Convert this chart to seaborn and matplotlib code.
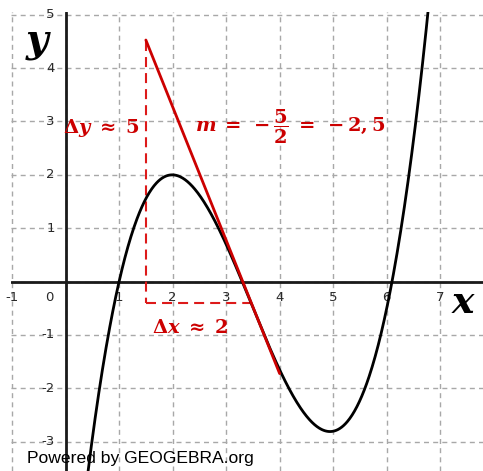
import numpy as np
import matplotlib
matplotlib.use("Agg")
import matplotlib.pyplot as plt
import seaborn as sns

# Cubic f(x) = lead * (x - r1)(x - r2)(x - r3)
roots = [1.0, 3.3, 6.1]
lead = 0.375

# Slope line m = -5/2 through an anchor point, drawn over x in seg_x
slope = -2.5
anchor = (2.75, 1.4)
seg_x = [1.5, 4.0]

# Slope triangle (dashed): vertical leg at tri_x[0], horizontal leg at tri_base
tri_x = [1.5, 3.47]
tri_top = 4.5
tri_base = -0.4

# Axis ticks
x_ticks = [-1, 1, 2, 3, 4, 5, 6, 7]
y_ticks = [-3, -2, -1, 1, 2, 3, 4, 5]

sns.set_style("white")
plt.rcParams["mathtext.fontset"] = "dejavuserif"

fig = plt.figure(figsize=(4.83, 4.71), dpi=100)
ax = fig.add_axes([11 / 483, 0, 472 / 483, 459 / 471])
ax.set_xlim(-1.02, 7.80)
ax.set_ylim(-3.55, 5.05)
for s in ax.spines.values():
    s.set_visible(False)

ax.set_xticks(range(-1, 8))
ax.set_yticks(range(-3, 6))
ax.tick_params(length=0, labelbottom=False, labelleft=False)
ax.grid(True, color="#a8a8a8", lw=1.0, linestyle=(0, (3.6, 3.0)))

# coordinate axes
ax.axhline(0, color="#1a1a1a", lw=2.0, zorder=3)
ax.axvline(0, color="#1a1a1a", lw=2.0, zorder=3)

# tick labels
lab_kw = dict(fontsize=9.5, color="#2a2a2a", family="DejaVu Sans", zorder=4)
for t in x_ticks:
    ax.text(t, -0.29, str(t), ha="center", va="center", **lab_kw)
ax.text(-0.31, -0.29, "0", ha="center", va="center", **lab_kw)
for t in y_ticks:
    ax.text(-0.2, t, str(t), ha="right", va="center", **lab_kw)

# the function graph
xs = np.linspace(0.2, 7.0, 600)
ys = lead * (xs - roots[0]) * (xs - roots[1]) * (xs - roots[2])
sns.lineplot(x=xs, y=ys, ax=ax, color="black", lw=2.0, sort=False, zorder=5)

# slope line
lx = np.array(seg_x)
ly = anchor[1] + slope * (lx - anchor[0])
sns.lineplot(x=lx, y=ly, ax=ax, color="#cc0000", lw=2.0, sort=False, zorder=6)

# dashed slope triangle
red_dash = (0, (4.8, 2.9))
ax.plot([tri_x[0], tri_x[0]], [tri_top, tri_base], color="#dd1a1a", lw=1.5,
        linestyle=red_dash, zorder=4)
ax.plot([tri_x[0], tri_x[1]], [tri_base, tri_base], color="#dd1a1a", lw=1.5,
        linestyle=red_dash, zorder=4)

# annotations
red = "#cc0000"
ax.text(-0.05, 2.88, r"$\mathbf{\Delta}\mathbfit{y}\ \mathbf{\approx\ 5}$",
        color=red, fontsize=14, ha="left", va="center", zorder=7)
ax.text(1.62, -0.87, r"$\mathbf{\Delta}\mathbfit{x}\ \mathbf{\approx\ 2}$",
        color=red, fontsize=14, ha="left", va="center", zorder=7)
ax.text(2.42, 2.9,
        r"$\mathbfit{m}\;\mathbf{=\;-\dfrac{5}{2}\;=\;-2,5}$",
        color=red, fontsize=14, ha="left", va="center", zorder=7)

# axis names
ax.text(-0.5, 4.47, r"$\mathbfit{y}$", fontsize=28, color="black",
        ha="center", va="center", zorder=7)
ax.text(7.43, -0.40, r"$\mathbfit{x}$", fontsize=27, color="black",
        ha="center", va="center", zorder=7)

# footer
ax.text(-0.72, -3.32, "Powered by GEOGEBRA.org", fontsize=12.6,
        family="Liberation Sans", color="black", ha="left", va="center", zorder=7)

fig.savefig("out.png", dpi=100)
